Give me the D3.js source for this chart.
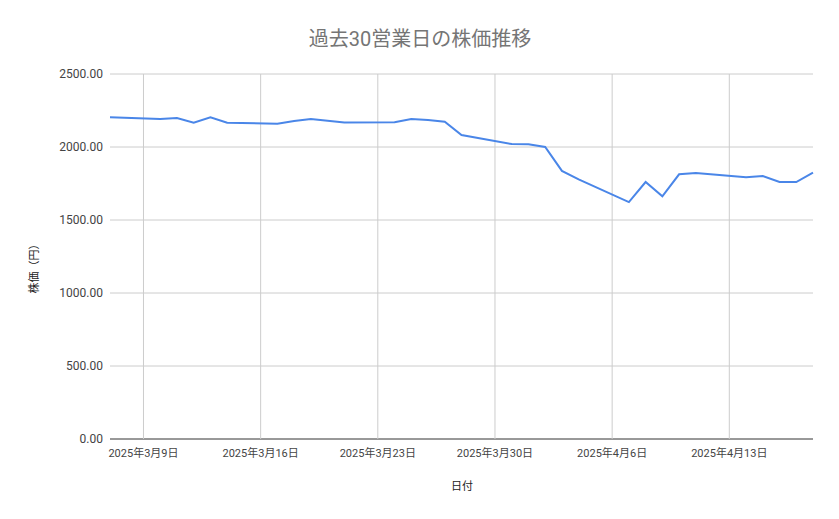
<!DOCTYPE html>
<html><head><meta charset="utf-8">
<script src="https://cdn.jsdelivr.net/npm/d3@7"></script>
<style>body{margin:0;background:#fff;font-family:Roboto,"Noto Sans CJK JP",sans-serif}</style>
</head><body><div id="chart"></div>
<script>
var dates = ["2025-03-07","2025-03-10","2025-03-11","2025-03-12","2025-03-13","2025-03-14","2025-03-17","2025-03-18","2025-03-19","2025-03-21",
  "2025-03-24","2025-03-25","2025-03-26","2025-03-27","2025-03-28","2025-03-31","2025-04-01","2025-04-02","2025-04-03","2025-04-04",
  "2025-04-07","2025-04-08","2025-04-09","2025-04-10","2025-04-11","2025-04-14","2025-04-15","2025-04-16","2025-04-17","2025-04-18"];
var prices = [2203,2192,2198,2166,2203,2166,2160,2178,2192,2168,
  2170,2192,2185,2173,2082,2020,2018,2000,1836,1778,
  1623,1760,1662,1813,1822,1793,1801,1760,1760,1824];
var yTicks = [0,500,1000,1500,2000,2500];
var xTicks = ["2025-03-09","2025-03-16","2025-03-23","2025-03-30","2025-04-06","2025-04-13"];

var W = 839, H = 519, m = {l:110, r:26, t:74, b:80};
var parse = d3.utcParse("%Y-%m-%d");
var data = dates.map(function(d, i) { return {date: parse(d), v: prices[i]}; });

var svg = d3.select("#chart").append("svg").attr("width", W).attr("height", H);
var x = d3.scaleUtc().domain([parse("2025-03-07"), parse("2025-04-18")]).range([m.l, W - m.r]);
var y = d3.scaleLinear().domain([0, 2500]).range([H - m.b, m.t]);

svg.append("text").attr("x", 420).attr("y", 46).attr("text-anchor", "middle")
  .attr("font-size", 20).attr("fill", "#757575").text("過去30営業日の株価推移");

svg.append("g").selectAll("line").data(yTicks).join("line")
  .attr("x1", m.l).attr("x2", W - m.r).attr("y1", y).attr("y2", y)
  .attr("stroke", function(d) { return d == 0 ? "#333" : "#ccc"; });
svg.append("g").selectAll("line").data(xTicks).join("line")
  .attr("x1", function(d) { return x(parse(d)); }).attr("x2", function(d) { return x(parse(d)); })
  .attr("y1", m.t).attr("y2", H - m.b).attr("stroke", "#ccc");

svg.append("g").selectAll("text").data(yTicks).join("text")
  .attr("x", m.l - 7).attr("y", function(d) { return y(d) + 4; }).attr("text-anchor", "end")
  .attr("font-size", 12).attr("fill", "#444").text(function(d) { return d.toFixed(2); });
svg.append("g").selectAll("text").data(xTicks).join("text")
  .attr("x", function(d) { return x(parse(d)); }).attr("y", H - m.b + 18).attr("text-anchor", "middle")
  .attr("font-size", 11).attr("fill", "#444")
  .text(function(d) { var t = parse(d); return t.getUTCFullYear() + "年" + (t.getUTCMonth() + 1) + "月" + t.getUTCDate() + "日"; });

svg.append("text").attr("x", 462).attr("y", 490).attr("text-anchor", "middle")
  .attr("font-size", 11).attr("fill", "#222").text("日付");
svg.append("text").attr("transform", "translate(38,266) rotate(-90)").attr("text-anchor", "middle")
  .attr("font-size", 11).attr("fill", "#222").text("株価（円）");

svg.append("path").datum(data).attr("fill", "none").attr("stroke", "#4a86e8").attr("stroke-width", 2)
  .attr("d", d3.line().x(function(d) { return x(d.date); }).y(function(d) { return y(d.v); }));
</script></body></html>
